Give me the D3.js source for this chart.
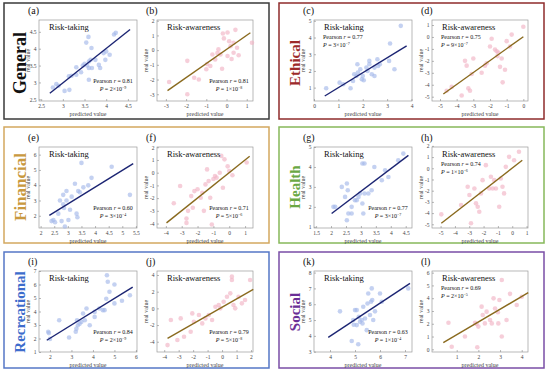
<!DOCTYPE html>
<html>
<head>
<meta charset="utf-8">
<title>Predicted vs real values</title>
<script src="https://d3js.org/d3.v7.min.js"></script>
<style>
  body { margin: 0; background: #fff; }
  text { font-family: "Liberation Serif", "Times New Roman", serif; }
</style>
</head>
<body>
<script>
// group names and colours (one framed box per group)
var groups = ["General", "Ethical", "Financial", "Health", "Recreational", "Social"];
var groupColors = ["#111111", "#9c2a2a", "#c9993f", "#6aa843", "#3d6ccc", "#6b2f96"];
var groupFrame = ["#3a3a3a", "#8e2b2b", "#d3a85f", "#86b85a", "#5577c6", "#7a4ea6"];
var groupFont = [18, 15, 17, 15, 15, 15];

// ---- data: predicted (x) and real (y) values ----
// (a) General, risk-taking
var aPred = [2.77,2.9,3.04,3.15,3.14,3.31,3.31,3.42,3.46,3.54,3.59,3.6,3.56,3.64,3.6,3.67,3.66,3.75,3.83,3.86,3.94,3.98,4.0,4.08,4.18,4.22,3.6,2.85,3.2,3.5];
var aReal = [2.85,2.9,2.75,2.78,3.18,3.23,3.45,3.3,3.5,4.18,4.35,3.62,3.5,3.67,3.43,3.43,4.02,3.67,3.52,3.43,3.87,3.67,3.92,3.82,4.42,4.47,3.08,2.95,3.2,3.55];
var aFit = [[2.7, 2.68], [4.55, 4.57]];
// (b) General, risk-awareness
var bPred = [-2.84,-1.94,-1.94,-1.6,-1.37,-0.96,-0.8,-0.7,-0.56,-0.4,-0.3,-0.22,-0.18,-0.13,0.05,0.13,0.2,0.35,0.35,0.44,0.52,1.26,0.05,-1.0,-0.45,0.25,0.6];
var bReal = [-2.17,-0.73,-3.0,-1.88,-2.0,-0.95,-1.08,-0.3,-0.63,0.05,-0.3,-1.27,1.13,0.8,-0.4,0.6,0.27,0.5,-0.18,1.38,0.16,0.5,1.2,-1.3,-0.2,-0.6,-0.35];
var bFit = [[-2.92, -2.75], [1.18, 1.18]];
// (c) Ethical, risk-taking
var cPred = [0.5,1.05,1.2,1.5,1.6,1.74,1.78,1.8,1.9,1.96,2.04,2.15,2.2,2.27,2.27,2.37,2.48,2.48,2.6,2.63,2.7,3.08,3.12,3.3,3.56,2.0,1.65];
var cReal = [0.96,1.3,1.2,0.96,1.4,1.7,2.4,1.9,2.1,1.5,1.44,2.2,2.0,2.6,2.4,1.8,1.7,2.2,2.7,2.3,2.4,2.6,3.64,2.1,4.7,1.7,1.8];
var cFit = [[0.44, 0.5], [3.8, 3.5]];
// (d) Ethical, risk-awareness
var dPred = [-4.3,-3.7,-3.5,-3.4,-3.3,-3.2,-3.0,-2.5,-2.3,-2.0,-1.9,-1.7,-1.6,-1.5,-1.4,-1.3,-1.24,-1.1,-1.0,-0.8,-0.7,0,-2.2,-3.1,-1.55,-4.6];
var dReal = [-4.18,-4.9,-2.0,-2.4,-4.3,-4.5,-1.8,-3.0,-2.4,-0.8,-0.15,-1.05,-1.2,-1.3,-2.5,-1.8,-3.8,-2.75,-0.35,-0.8,0.2,0.85,-2.2,-3.1,-1.6,-4.5];
var dFit = [[-4.8, -4.77], [0, 0.02]];
// (e) Financial, risk-taking
var ePred = [2.4,2.47,2.53,2.71,2.77,2.83,2.86,2.89,2.95,2.95,3.02,3.32,3.35,3.26,3.38,3.44,3.5,3.57,3.75,3.87,4.61,5.28,3.14,2.83,3.08,2.65];
var eReal = [1.65,1.72,1.58,3.0,1.65,3.37,2.51,1.3,3.0,3.62,1.72,2.14,1.9,4.1,3.62,3.54,5.46,3.86,3.99,4.48,5.21,3.37,3.25,2.75,2.39,2.14];
var eFit = [[2.32, 2.02], [5.4, 5.41]];
// (f) Financial, risk-awareness
var fPred = [-3.5,-3.1,-2.7,-2.7,-2.4,-2.3,-2.2,-2.0,-1.8,-1.7,-1.6,-1.5,-1.4,-1.3,-1.2,-1.0,-0.9,-0.8,-0.6,-0.5,-0.4,-0.3,-0.1,0,0.2,1.1,-1.1,-2.6];
var fReal = [-2.4,-1.05,-3.95,-3.6,-1.84,-2.76,-1.45,-1.3,-1.97,-1.58,-3.0,-0.92,0.26,-0.66,-1.97,-0.5,-0.26,-0.39,0,1.32,-1.18,1.05,0.5,0.13,-0.2,0.8,-4.08,-3.0];
var fFit = [[-3.96, -3.95], [1.29, 1.29]];
// (g) Health, risk-taking
var gPred = [2.08,2.14,2.36,2.47,2.53,2.56,2.53,2.58,2.69,2.69,2.8,2.86,2.92,2.97,3.05,3.12,3.05,3.08,3.12,3.25,3.36,3.45,3.7,3.81,3.92,4.25,4.42];
var gReal = [2.0,2.0,3.0,2.5,3.17,2.83,1.33,1.67,1.67,2.0,2.33,2.33,2.5,2.67,4.17,4.17,2.17,1.67,2.67,2.67,2.83,4.0,3.33,3.83,3.5,4.33,4.67];
var gFit = [[2.02, 1.67], [4.59, 4.58]];
// (h) Health, risk-awareness
var hPred = [-4.95,-3.57,-3.11,-2.99,-2.88,-2.64,-2.53,-2.41,-2.3,-2.18,-2.07,-1.84,-1.61,-1.49,-1.37,-1.26,-1.14,-0.91,-0.8,-0.68,-0.57,-0.45,-0.22,0.13,0.47];
var hReal = [-4.11,-3.28,-1.65,-2.39,-4.91,-1.8,-3.13,-3.43,-3.88,-2.24,-1.06,0.28,-1.8,-0.76,-1.8,-1.06,-1.8,-3.43,-0.91,-1.65,-2.24,0.13,1.02,0.72,1.47];
var hFit = [[-4.95, -4.91], [0.7, 0.72]];
// (i) Recreational, risk-taking
var iPred = [1.92,2.0,2.43,2.89,3.23,3.26,3.3,3.38,3.46,3.54,3.62,3.7,3.85,4.08,4.08,4.3,4.46,4.54,4.62,4.65,4.69,4.77,5.0,5.0,5.35,5.72,3.2,1.95];
var iReal = [2.5,1.97,3.35,2.07,2.73,3.35,2.98,3.1,3.23,3.85,3.35,4.22,2.98,3.6,3.97,4.22,4.1,4.1,4.95,6.68,6.2,5.46,4.6,6.0,4.8,5.2,2.5,2.4];
var iFit = [[1.85, 1.87], [5.85, 5.8]];
// (j) Recreational, risk-awareness
var jPred = [-3.77,-3.54,-3.09,-2.86,-2.63,-2.17,-2.06,-1.95,-1.6,-1.37,-1.15,-0.92,-0.69,-0.46,-0.23,-0.12,0.11,0.34,0.57,0.68,0.68,0.79,0.91,1.14,1.37,1.59,1.94];
var jReal = [-4.4,-1.4,-3.8,-1.2,-3.4,-2.8,-0.6,-1.6,-0.8,-1.8,-1.2,-0.8,-1.4,0.2,0.4,0,0.8,1.4,1.8,3.8,3.4,0.4,0,1.4,0.6,1.0,3.4];
var jFit = [[-3.77, -3.6], [2.16, 2.28]];
// (k) Social, risk-taking
var kPred = [4.4,4.87,4.93,5.0,5.07,5.07,5.13,5.2,5.27,5.3,5.33,5.4,5.47,5.5,5.53,5.6,5.64,5.67,5.69,5.73,5.8,6.0,6.07,7.13,5.15,4.95];
var kReal = [5.55,3.68,5.0,5.63,5.63,4.68,3.47,4.9,5.0,4.78,5.84,5.1,4.36,6.05,6.68,5.32,6.16,7.0,6.26,5.0,5.55,6.68,6.16,7.0,5.2,4.7];
var kFit = [[3.93, 3.9], [7.2, 7.32]];
// (l) Social, risk-awareness
var lPred = [0.62,0.77,1.38,1.85,1.92,1.95,2.0,2.15,2.2,2.3,2.38,2.54,2.62,2.7,2.77,2.92,2.97,3.08,3.08,3.3,3.46,3.77,4.0,2.9];
var lReal = [2.08,0.2,1.0,2.08,1.98,0.16,1.78,3.34,2.69,2.03,2.95,2.3,2.03,3.99,3.2,2.03,3.86,5.43,1.0,2.3,4.34,3.47,4.12,2.9];
var lFit = [[0.38, 0.52], [4.3, 4.43]];

// axis limits and ticks
var xLims = [[2.45,4.71],[-3.44,1.31],[0,4.02],[-5.48,0.28],[1.94,5.54],[-4.56,1.5],
             [1.43,4.71],[-5.6,1.1],[1.49,6.05],[-4.5,2.14],[3.36,7.28],[-0.14,4.29]];
var yLims = [[2.45,4.85],[-3.46,2.05],[0.2,5.05],[-5.36,1.42],[1.2,6.5],[-4.35,2.02],
             [0.94,5.0],[-5.33,1.9],[1,7],[-5.23,4.48],[2.98,8.1],[-0.21,6.13]];
var xTickVals = [[2.5,3,3.5,4,4.5],[-3,-2,-1,0,1],[0,1,2,3,4],[-5,-4,-3,-2,-1,0],[2,2.5,3,3.5,4,4.5,5,5.5],[-4,-3,-2,-1,0,1],
                 [1.5,2,2.5,3,3.5,4,4.5],[-5,-4,-3,-2,-1,0,1],[2,3,4,5,6],[-4,-3,-2,-1,0,1,2],[4,5,6,7],[1,2,3,4]];
var yTickVals = [[2.5,3,3.5,4,4.5],[-3,-2,-1,0,1,2],[1,2,3,4,5],[-5,-4,-3,-2,-1,0,1],[2,3,4,5,6],[-4,-3,-2,-1,0,1,2],
                 [1,2,3,4,5],[-5,-4,-3,-2,-1,0,1,2],[1,2,3,4,5,6,7],[-4,-2,0,2,4],[3,4,5,6,7,8],[0,1,2,3,4,5,6]];

// statistics printed in each panel
var pearsonR = ["0.81","0.81","0.77","0.75","0.60","0.71","0.77","0.74","0.84","0.79","0.63","0.69"];
var pMant    = ["2","1","3","9","3","5","3","1","2","5","1","2"];
var pExp     = ["9","8","7","7","4","6","7","6","9","8","4","5"];

var letters = ["a","b","c","d","e","f","g","h","i","j","k","l"];
var preds = [aPred,bPred,cPred,dPred,ePred,fPred,gPred,hPred,iPred,jPred,kPred,lPred];
var reals = [aReal,bReal,cReal,dReal,eReal,fReal,gReal,hReal,iReal,jReal,kReal,lReal];
var fits  = [aFit,bFit,cFit,dFit,eFit,fFit,gFit,hFit,iFit,jFit,kFit,lFit];
var statTopLeft = {c:true, d:true, h:true, l:true};

var W = 550, H = 374;
var svg = d3.select("body").append("svg").attr("width", W).attr("height", H);

// box geometry
var boxLeft = [4, 279], boxTop = [3, 127, 252], boxW = 265, boxH = 116;
var plotTop = [20, 147, 271], plotH = 81;

groups.forEach(function(name, g) {
  var col = g % 2, row = Math.floor(g / 2);
  var bx = boxLeft[col], by = boxTop[row];
  svg.append("rect").attr("x", bx).attr("y", by).attr("width", boxW).attr("height", boxH)
    .attr("fill", "none").attr("stroke", groupFrame[g]).attr("stroke-width", 1.5);
  svg.append("text")
    .attr("transform", "translate(" + (bx + 16) + "," + (by + 60) + ") rotate(-90)")
    .attr("text-anchor", "middle").attr("dominant-baseline", "central")
    .style("font-size", groupFont[g] + "px").style("font-weight", "bold")
    .attr("fill", groupColors[g]).text(name);

  for (var s = 0; s < 2; s++) drawPanel(g * 2 + s, bx, by, row, s);
});

function drawPanel(k, bx, by, row, side) {
  var px = side === 0 ? bx + 35 : bx + 153;
  var pw = side === 0 ? 98 : 96;
  var py = plotTop[row], ph = plotH;
  var x = d3.scaleLinear().domain(xLims[k]).range([px, px + pw]);
  var y = d3.scaleLinear().domain(yLims[k]).range([py + ph, py]);
  var gp = svg.append("g");

  gp.append("rect").attr("x", px).attr("y", py).attr("width", pw).attr("height", ph)
    .attr("fill", "#fff").attr("stroke", "#9a9a9a").attr("stroke-width", 0.7);

  // inward ticks + labels
  var xa = d3.axisBottom(x).tickValues(xTickVals[k]).tickSizeInner(-2).tickSizeOuter(0).tickPadding(3)
    .tickFormat(function(d) { return String(d); });
  var ya = d3.axisLeft(y).tickValues(yTickVals[k]).tickSizeInner(-2).tickSizeOuter(0).tickPadding(2.5)
    .tickFormat(function(d) { return String(d); });
  var gx = gp.append("g").attr("transform", "translate(0," + (py + ph) + ")").call(xa);
  var gy = gp.append("g").attr("transform", "translate(" + px + ",0)").call(ya);
  [gx, gy].forEach(function(a) {
    a.select(".domain").remove();
    a.selectAll("line").attr("stroke", "#888").attr("stroke-width", 0.6);
    a.selectAll("text").attr("fill", "#444").style("font-size", "5.5px")
      .style("font-family", "'Liberation Serif', serif");
  });

  gp.append("text").attr("x", px + pw / 2).attr("y", py + ph + 15).attr("text-anchor", "middle")
    .style("font-size", "6px").attr("fill", "#444").text("predicted value");
  gp.append("text").attr("transform", "translate(" + (px - 9) + "," + (py + ph / 2) + ") rotate(-90)")
    .attr("text-anchor", "middle").style("font-size", "6px").attr("fill", "#444").text("real value");

  // points
  var pts = d3.zip(preds[k], reals[k]);
  var ptColor = side === 0 ? "#a4b9ea" : "#f1b3c4";
  gp.append("g").selectAll("circle").data(pts).enter().append("circle")
    .attr("cx", function(d) { return x(d[0]); })
    .attr("cy", function(d) { return y(d[1]); })
    .attr("r", 2.3).attr("fill", ptColor).attr("fill-opacity", 0.65);

  // regression line
  gp.append("line")
    .attr("x1", x(fits[k][0][0])).attr("y1", y(fits[k][0][1]))
    .attr("x2", x(fits[k][1][0])).attr("y2", y(fits[k][1][1]))
    .attr("stroke", side === 0 ? "#1c2573" : "#8a6a1e").attr("stroke-width", 1.4);

  // panel letter and title
  svg.append("text").attr("x", px - 11).attr("y", py - 6).style("font-size", "10px").attr("fill", "#111")
    .text("(" + letters[k] + ")");
  svg.append("text").attr("x", px + 10).attr("y", py + 10).style("font-size", "8.5px").attr("fill", "#111")
    .text(side === 0 ? "Risk-taking" : "Risk-awareness");

  // Pearson stats
  var tl = statTopLeft[letters[k]];
  var sx = tl ? px + 9 : px + pw - 24;
  var sy = tl ? py + 19 : py + 63;
  var anchor = tl ? "start" : "middle";
  var t1 = svg.append("text").attr("x", sx).attr("y", sy).attr("text-anchor", anchor)
    .style("font-size", "6px").attr("fill", "#111");
  t1.append("tspan").text("Pearson ");
  t1.append("tspan").style("font-style", "italic").text("r");
  t1.append("tspan").text(" = " + pearsonR[k]);
  var t2 = svg.append("text").attr("x", sx).attr("y", sy + 8).attr("text-anchor", anchor)
    .style("font-size", "6px").attr("fill", "#111");
  t2.append("tspan").style("font-style", "italic").text("P");
  t2.append("tspan").text(" = " + pMant[k] + "\u00d710");
  t2.append("tspan").attr("dy", -2.5).style("font-size", "4px").text("\u2212" + pExp[k]);
}
</script>
</body>
</html>
